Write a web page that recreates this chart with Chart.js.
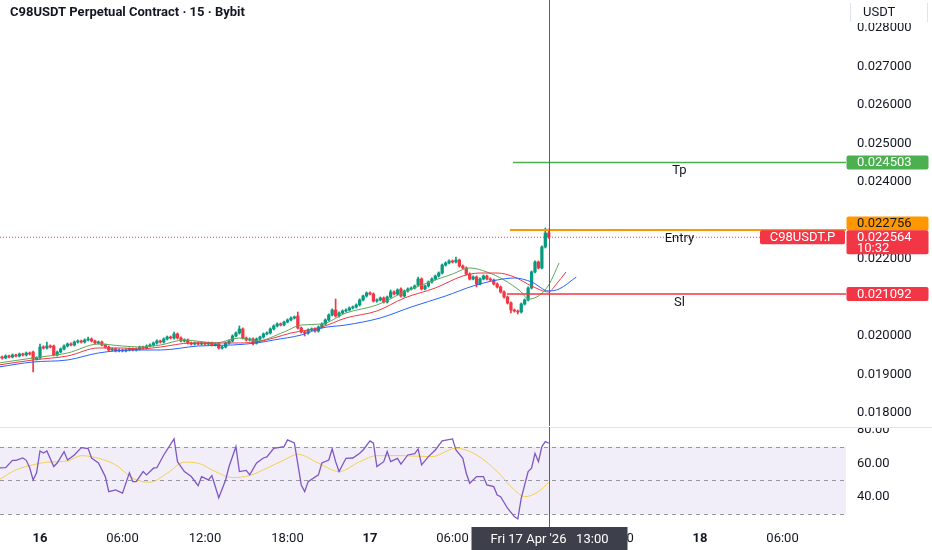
<!DOCTYPE html>
<html><head><meta charset="utf-8">
<script src="https://cdn.jsdelivr.net/npm/chart.js@4.4.1/dist/chart.umd.min.js"></script>
<style>
html,body{margin:0;padding:0;background:#fff;width:932px;height:550px;overflow:hidden;}
#wrap{position:relative;width:932px;height:550px;}
canvas{position:absolute;left:0;}
#main{top:0;}
#rsi{top:427px;}
</style></head><body>
<div id="wrap"><canvas id="main" width="932" height="426"></canvas><canvas id="rsi" width="932" height="123"></canvas></div>
<script>
// ---------- DATA ----------
const title = 'C98USDT Perpetual Contract \u00b7 15 \u00b7 Bybit';
const quoteCcy = 'USDT';
const symbolTag = 'C98USDT.P';
const countdown = '10:32';
const crosshairLabel = "Fri 17 Apr '26   13:00";
const crosshairIdx = 160;

// 15-minute bars, index 0 = 15 Apr 21:00
const open = [
0.019429,0.019455,0.019429,0.019481,0.019455,0.019506,0.019481,0.019532,0.019506,0.019558,
0.019584,0.019403,0.019429,0.019714,0.019688,0.019740,0.019740,0.019506,0.019584,0.019662,
0.019740,0.019792,0.019766,0.019844,0.019870,0.019844,0.019896,0.019922,0.019870,0.019818,
0.019844,0.019766,0.019714,0.019636,0.019662,0.019610,0.019636,0.019610,0.019636,0.019662,
0.019636,0.019662,0.019714,0.019688,0.019740,0.019766,0.019818,0.019870,0.019844,0.019922,
0.019974,0.019948,0.020052,0.019948,0.019870,0.019896,0.019818,0.019792,0.019818,0.019792,
0.019818,0.019792,0.019818,0.019766,0.019792,0.019688,0.019714,0.019818,0.019870,0.020000,
0.020078,0.020182,0.019948,0.019896,0.019922,0.019818,0.019922,0.019974,0.020052,0.020078,
0.020182,0.020260,0.020312,0.020286,0.020364,0.020416,0.020468,0.020519,0.020208,0.020104,
0.020078,0.020156,0.020182,0.020130,0.020234,0.020312,0.020416,0.020545,0.020675,0.020519,
0.020597,0.020649,0.020675,0.020727,0.020753,0.020805,0.020935,0.021039,0.021117,0.021091,
0.020909,0.020935,0.020987,0.020883,0.021013,0.021143,0.021091,0.021221,0.021039,0.021169,
0.021221,0.021247,0.021325,0.021481,0.021221,0.021299,0.021403,0.021481,0.021558,0.021636,
0.021844,0.021896,0.021948,0.021922,0.021974,0.021818,0.021766,0.021610,0.021481,0.021532,
0.021351,0.021481,0.021558,0.021481,0.021455,0.021351,0.021273,0.021143,0.021013,0.020857,
0.020675,0.020649,0.020623,0.020831,0.020935,0.021247,0.021662,0.021922,0.021766,0.022312,
0.022675];
const high = [
0.019485,0.019480,0.019510,0.019505,0.019535,0.019530,0.019560,0.019555,0.019585,0.019585,
0.019610,0.019460,0.019792,0.019745,0.019844,0.019770,0.019765,0.019610,0.019690,0.019770,
0.019820,0.019820,0.019870,0.019900,0.019895,0.019925,0.019974,0.019950,0.019895,0.019870,
0.019870,0.019795,0.019740,0.019690,0.019690,0.019665,0.019660,0.019665,0.019690,0.019690,
0.019690,0.019740,0.019740,0.019770,0.019795,0.019845,0.019900,0.019895,0.019950,0.020000,
0.020000,0.020104,0.020080,0.019975,0.019925,0.019925,0.019845,0.019845,0.019845,0.019845,
0.019845,0.019845,0.019845,0.019820,0.019820,0.019740,0.019845,0.019900,0.020030,0.020105,
0.020260,0.020210,0.019975,0.019950,0.019950,0.019950,0.020000,0.020080,0.020105,0.020210,
0.020290,0.020340,0.020340,0.020390,0.020445,0.020495,0.020520,0.020623,0.020235,0.020130,
0.020185,0.020210,0.020210,0.020260,0.020340,0.020445,0.020575,0.020705,0.020961,0.020625,
0.020680,0.020705,0.020755,0.020780,0.020835,0.020965,0.021065,0.021145,0.021145,0.021120,
0.020965,0.021015,0.021015,0.021040,0.021195,0.021170,0.021225,0.021250,0.021195,0.021250,
0.021275,0.021325,0.021532,0.021510,0.021325,0.021430,0.021510,0.021585,0.021665,0.021870,
0.021925,0.021975,0.021975,0.022052,0.022000,0.021845,0.021795,0.021640,0.021560,0.021560,
0.021510,0.021585,0.021585,0.021510,0.021480,0.021380,0.021300,0.021170,0.021040,0.020885,
0.020700,0.020675,0.020860,0.020965,0.021275,0.021690,0.021950,0.021950,0.022340,0.022805,
0.022779];
const low = [
0.019400,0.019400,0.019405,0.019430,0.019430,0.019455,0.019455,0.019480,0.019480,0.019505,
0.019065,0.019375,0.019400,0.019660,0.019660,0.019690,0.019481,0.019480,0.019560,0.019635,
0.019715,0.019740,0.019740,0.019815,0.019815,0.019815,0.019870,0.019845,0.019790,0.019790,
0.019740,0.019690,0.019610,0.019610,0.019585,0.019585,0.019585,0.019585,0.019610,0.019610,
0.019610,0.019635,0.019660,0.019660,0.019715,0.019740,0.019790,0.019815,0.019815,0.019895,
0.019920,0.019920,0.019920,0.019845,0.019845,0.019790,0.019765,0.019765,0.019765,0.019765,
0.019765,0.019765,0.019740,0.019740,0.019660,0.019660,0.019690,0.019790,0.019845,0.019975,
0.020050,0.019920,0.019870,0.019870,0.019766,0.019790,0.019895,0.019945,0.020025,0.020050,
0.020155,0.020235,0.020260,0.020260,0.020340,0.020390,0.020440,0.020180,0.020075,0.020000,
0.020050,0.020130,0.020100,0.020100,0.020205,0.020285,0.020390,0.020520,0.020490,0.020490,
0.020570,0.020620,0.020650,0.020700,0.020725,0.020780,0.020910,0.021010,0.021065,0.020880,
0.020880,0.020910,0.020855,0.020855,0.020985,0.021065,0.021065,0.021010,0.021010,0.021140,
0.021195,0.021220,0.021300,0.021195,0.021195,0.021270,0.021375,0.021455,0.021530,0.021610,
0.021815,0.021870,0.021895,0.021895,0.021790,0.021740,0.021585,0.021455,0.021455,0.021273,
0.021325,0.021455,0.021455,0.021430,0.021325,0.021245,0.021115,0.020985,0.020830,0.020597,
0.020620,0.020571,0.020595,0.020805,0.020910,0.021220,0.021635,0.021740,0.021740,0.022285,
0.022535];
const close = [
0.019455,0.019429,0.019481,0.019455,0.019506,0.019481,0.019532,0.019506,0.019558,0.019532,
0.019403,0.019429,0.019714,0.019688,0.019740,0.019714,0.019506,0.019584,0.019662,0.019740,
0.019792,0.019766,0.019844,0.019870,0.019844,0.019896,0.019922,0.019870,0.019818,0.019844,
0.019766,0.019714,0.019636,0.019662,0.019610,0.019636,0.019610,0.019636,0.019662,0.019636,
0.019662,0.019714,0.019688,0.019740,0.019766,0.019818,0.019870,0.019844,0.019922,0.019974,
0.019948,0.020052,0.019948,0.019870,0.019896,0.019818,0.019792,0.019818,0.019792,0.019818,
0.019792,0.019818,0.019766,0.019792,0.019688,0.019714,0.019818,0.019870,0.020000,0.020078,
0.020182,0.019948,0.019896,0.019922,0.019818,0.019922,0.019974,0.020052,0.020078,0.020182,
0.020260,0.020312,0.020286,0.020364,0.020416,0.020468,0.020494,0.020208,0.020104,0.020078,
0.020156,0.020182,0.020130,0.020234,0.020312,0.020416,0.020545,0.020675,0.020519,0.020597,
0.020649,0.020675,0.020727,0.020753,0.020805,0.020935,0.021039,0.021117,0.021091,0.020909,
0.020935,0.020987,0.020883,0.021013,0.021143,0.021091,0.021195,0.021039,0.021169,0.021221,
0.021247,0.021299,0.021481,0.021221,0.021299,0.021403,0.021481,0.021558,0.021636,0.021844,
0.021896,0.021948,0.021922,0.021974,0.021818,0.021766,0.021610,0.021481,0.021532,0.021351,
0.021481,0.021558,0.021481,0.021455,0.021351,0.021273,0.021143,0.021013,0.020857,0.020675,
0.020649,0.020623,0.020831,0.020935,0.021247,0.021662,0.021922,0.021766,0.022312,0.022675,
0.022564];

// moving averages (bar index, price)
const maFastIdx = [0,10,20,29,36,41,47,54,63,70,75,83,88,94,101,110,118,127,132,137,142,147,152,154,157,160,163];
const maFast = [0.019299,0.019429,0.019558,0.019792,0.019740,0.019714,0.019766,0.019896,0.019818,0.019948,0.019870,0.020104,0.020286,0.020312,0.020597,0.020805,0.021143,0.021455,0.021610,0.021766,0.021662,0.021455,0.021143,0.020961,0.021039,0.021325,0.021896];
const maMidIdx = [0,10,20,29,36,41,47,56,68,75,80,85,90,94,101,110,118,127,135,140,145,150,155,160,162,165];
const maMid = [0.019247,0.019377,0.019481,0.019688,0.019688,0.019662,0.019714,0.019818,0.019818,0.019844,0.019948,0.020078,0.020156,0.020234,0.020468,0.020649,0.020987,0.021247,0.021558,0.021636,0.021636,0.021532,0.021299,0.021143,0.021325,0.021662];
const maSlowIdx = [0,10,20,29,39,47,58,68,75,80,88,94,101,111,120,130,138,145,150,155,160,163,168];
const maSlow = [0.019195,0.019325,0.019377,0.019558,0.019636,0.019636,0.019740,0.019766,0.019818,0.019896,0.020026,0.020208,0.020286,0.020468,0.020753,0.021039,0.021299,0.021455,0.021506,0.021403,0.021169,0.021220,0.021532];

// levels
const levelNames = ['Tp','Entry','Sl'];
const levelPrices = [0.024503, 0.022756, 0.021092];
const levelStartIdx = [149.6, 148.7, 147.8];
const levelLabelIdx = 198;
const lastPrice = 0.022564;

// RSI
const rsiIdx = [0,2,4,5,7,8,9,10,11,12,13,14,16,17,19,20,22,24,26,27,29,31,32,34,36,38,39,40,42,43,45,46,48,51,52,54,56,58,59,61,62,64,66,67,69,70,72,73,75,77,78,80,83,84,86,88,89,90,93,94,96,97,98,99,101,103,105,106,108,109,110,112,113,114,116,117,119,121,122,123,125,127,129,132,133,135,136,137,139,141,142,144,145,146,148,150,151,152,154,155,156,157,158,159,160];
const rsiVal = [57.5,57.6,62,62,63.4,62,57.6,50.3,54.5,67.6,66.4,67.6,58.3,60.4,67.2,62.2,65.2,69.6,69,63.4,60.4,52.3,43.3,44.3,42.4,54.5,49.3,49.3,55.3,53.3,57.3,57.6,65.2,74.8,61.2,55.3,52.3,46.9,52.3,50.3,52.9,39.7,50.3,58.3,70.2,55.3,56,53.3,60.4,63.4,64,69.2,70.2,74.2,72.4,47.3,43.3,49.3,53.3,60.4,62.2,68.8,61.2,55.3,63.2,63.4,66.2,68.2,73.6,72.2,58.3,61.2,67.2,61.2,63.2,59.7,65.2,66,68.8,59.3,64.2,68.2,73.6,74.8,68.2,63.2,54.3,48.3,52.3,52.3,47.3,46.3,41.3,40.3,33.4,28.4,27,39.4,55.3,57.3,66.2,61.2,70.2,73.2,72.2];
const rsiMaIdx = [0,5,10,14,20,24,29,34,39,44,49,54,58,63,68,73,78,83,87,93,99,105,110,117,126,133,139,145,150,153,157,160];
const rsiMa = [50.3,56.3,59.3,60.9,61.6,64.8,63.2,59.3,51.3,48.9,54.3,60.9,60.3,55.3,51.7,52.9,57.3,62.2,65.6,60.3,55.3,61.2,64.8,64.8,64.2,69.2,65.2,55.3,44.3,40.3,43.3,48.9];
const rsiLevels = [70, 50, 30];

// axes (0.021 and 0.023 are hidden behind the level tags in the original)
const priceTicks = [0.018,0.019,0.020,0.022,0.024,0.025,0.026,0.027,0.028];
const rsiTicks = [40, 60, 80];
const timeTickIdx = [12,36,60,84,108,132,156,180,204,228];
const timeTickLabels = ['16','06:00','12:00','18:00','17','06:00','12:00','18:00','18','06:00'];
const timeTickBold = [true,false,false,false,true,false,false,false,true,false];

// ---------- STYLE / RANGES ----------
const X_MIN = 0.364, X_MAX = 246.47;
const Y_MIN = 0.017662, Y_MAX = 0.028727;
const R_MIN = 22.2, R_MAX = 81.9;
const UP = '#089981', DN = '#f23645';
const AXIS_W = 86;
const FONT = 'Roboto';
Chart.defaults.font.family = FONT;
Chart.defaults.animation = false;

const idx = close.map((_, i) => i);
const dir = i => close[i] >= open[i] ? UP : DN;
const pts = (xs, ys) => xs.map((x, i) => ({x: x, y: ys[i]}));
const noPad = s => { s.paddingTop = 0; s.paddingBottom = 0; s.paddingLeft = 0; s.paddingRight = 0; };

function roundRect(ctx, x, y, w, h, r) {
  ctx.beginPath();
  ctx.moveTo(x + r, y); ctx.lineTo(x + w - r, y); ctx.quadraticCurveTo(x + w, y, x + w, y + r);
  ctx.lineTo(x + w, y + h - r); ctx.quadraticCurveTo(x + w, y + h, x + w - r, y + h);
  ctx.lineTo(x + r, y + h); ctx.quadraticCurveTo(x, y + h, x, y + h - r);
  ctx.lineTo(x, y + r); ctx.quadraticCurveTo(x, y, x + r, y); ctx.closePath();
}

const levelColors = ['#4caf50', '#ff9800', '#f23645'];
const levelWidths = [1.5, 2, 1.5];

const mainOverlay = {
  id: 'mainOverlay',
  afterDraw(chart) {
    const {ctx, chartArea: ca, scales: {x, y}} = chart;
    ctx.save();
    const cx = Math.round(x.getPixelForValue(crosshairIdx)) + 0.5;
    ctx.strokeStyle = '#5d606b'; ctx.lineWidth = 1;
    ctx.beginPath(); ctx.moveTo(cx, 0); ctx.lineTo(cx, chart.height); ctx.stroke();
    ctx.font = '13px ' + FONT; ctx.fillStyle = '#131722'; ctx.textAlign = 'center'; ctx.textBaseline = 'top';
    levelNames.forEach((n, i) => {
      ctx.fillText(n, x.getPixelForValue(levelLabelIdx), y.getPixelForValue(levelPrices[i]) + 2);
    });
    ctx.font = 'bold 13px ' + FONT; ctx.textAlign = 'left'; ctx.textBaseline = 'middle'; ctx.fillStyle = '#131722';
    ctx.fillText(title, 10, 13);
    const ax = ca.right;
    ctx.fillStyle = '#ffffff'; ctx.fillRect(ax, 0, chart.width - ax, 23);
    ctx.strokeStyle = '#e0e3eb'; ctx.beginPath(); ctx.moveTo(ax + 4.5, 3); ctx.lineTo(ax + 4.5, 22); ctx.moveTo(chart.width - 4.5, 3); ctx.lineTo(chart.width - 4.5, 22); ctx.stroke();
    ctx.fillStyle = '#131722'; ctx.font = '13px ' + FONT; ctx.fillText(quoteCcy, ax + 17, 13);
    const tagW = 82, tx = ax + 0.5;
    function tag(top, h, bg, fg, lines) {
      ctx.fillStyle = bg; roundRect(ctx, tx, top, tagW, h, 2); ctx.fill();
      ctx.fillStyle = fg; ctx.font = '13px ' + FONT; ctx.textAlign = 'left'; ctx.textBaseline = 'middle';
      lines.forEach((t, k) => ctx.fillText(t, ax + 11, top + 7.5 + k * 11));
    }
    const yTp = y.getPixelForValue(levelPrices[0]);
    const yEn = y.getPixelForValue(levelPrices[1]);
    const ySl = y.getPixelForValue(levelPrices[2]);
    const yLast = y.getPixelForValue(lastPrice);
    tag(yTp - 7, 14, '#4caf50', '#ffffff', [levelPrices[0].toFixed(6)]);
    tag(yEn - 13.5, 14, '#ff9800', '#131722', [levelPrices[1].toFixed(6)]);
    tag(ySl - 7, 14, '#f23645', '#ffffff', [levelPrices[2].toFixed(6)]);
    tag(yLast - 7, 24, '#f23645', '#ffffff', [lastPrice.toFixed(6), countdown]);
    ctx.fillStyle = '#f23645'; roundRect(ctx, ax - 86, yLast - 7, 85, 14, 2); ctx.fill();
    ctx.fillStyle = '#ffffff'; ctx.textAlign = 'center'; ctx.fillText(symbolTag, ax - 43.5, yLast + 0.5);
    ctx.restore();
  }
};

new Chart(document.getElementById('main'), {
  type: 'bar',
  data: {
    datasets: [
      {type: 'line', data: [{x: X_MIN, y: lastPrice}, {x: X_MAX, y: lastPrice}], borderColor: '#f23645', borderWidth: 1, borderDash: [1, 2], pointRadius: 0, order: 10},
      {type: 'bar', data: idx.map(i => ({x: i, y: [low[i], high[i]]})), backgroundColor: c => dir(c.dataIndex), barThickness: 1, grouped: false, order: 3},
      {type: 'bar', data: idx.map(i => ({x: i, y: [open[i], close[i]]})), backgroundColor: c => dir(c.dataIndex), barThickness: 2.6, minBarLength: 1, grouped: false, order: 2},
      {type: 'line', data: pts(maSlowIdx, maSlow), borderColor: '#2962ff', borderWidth: 1, pointRadius: 0, cubicInterpolationMode: 'monotone', order: 1},
      {type: 'line', data: pts(maMidIdx, maMid), borderColor: '#f23645', borderWidth: 1, pointRadius: 0, cubicInterpolationMode: 'monotone', order: 1},
      {type: 'line', data: pts(maFastIdx, maFast), borderColor: '#5fa55a', borderWidth: 1, pointRadius: 0, cubicInterpolationMode: 'monotone', order: 1},
      ...levelPrices.map((p, i) => ({type: 'line', data: [{x: levelStartIdx[i], y: p}, {x: X_MAX, y: p}], borderColor: levelColors[i], borderWidth: levelWidths[i], pointRadius: 0, order: 0}))
    ]
  },
  options: {
    responsive: false, animation: false, events: [],
    layout: {padding: 0, autoPadding: false},
    plugins: {legend: {display: false}, tooltip: {enabled: false}},
    scales: {
      x: {type: 'linear', min: X_MIN, max: X_MAX, offset: false, display: false},
      y: {
        position: 'right', min: Y_MIN, max: Y_MAX,
        grid: {display: false, drawTicks: false}, border: {display: false},
        afterBuildTicks: s => { s.ticks = priceTicks.map(v => ({value: v})); },
        afterFit: s => { s.width = AXIS_W; noPad(s); },
        ticks: {padding: 11, color: '#131722', font: {size: 13}, callback: v => Number(v).toFixed(6)}
      }
    }
  },
  plugins: [mainOverlay]
});

const rsiOverlay = {
  id: 'rsiOverlay',
  beforeDatasetsDraw(chart) {
    const {ctx, chartArea: ca, scales: {y}} = chart;
    ctx.save();
    const y70 = y.getPixelForValue(rsiLevels[0]), y30 = y.getPixelForValue(rsiLevels[2]);
    ctx.fillStyle = 'rgba(126,87,194,0.1)';
    ctx.fillRect(ca.left, y70, ca.right - ca.left, y30 - y70);
    ctx.strokeStyle = '#9598a1'; ctx.lineWidth = 1; ctx.setLineDash([4, 4]);
    rsiLevels.forEach(v => {
      const yy = Math.round(y.getPixelForValue(v)) + 0.5;
      ctx.beginPath(); ctx.moveTo(ca.left, yy); ctx.lineTo(ca.right, yy); ctx.stroke();
    });
    ctx.restore();
  },
  afterDraw(chart) {
    const {ctx, chartArea: ca, scales: {x}} = chart;
    ctx.save();
    ctx.strokeStyle = '#e0e3eb'; ctx.lineWidth = 1;
    ctx.beginPath(); ctx.moveTo(0, 0.5); ctx.lineTo(chart.width, 0.5); ctx.stroke();
    const cx = Math.round(x.getPixelForValue(crosshairIdx)) + 0.5;
    ctx.strokeStyle = '#5d606b';
    ctx.beginPath(); ctx.moveTo(cx, 0); ctx.lineTo(cx, ca.bottom); ctx.stroke();
    const bw = 156, bh = 23;
    ctx.fillStyle = '#3d404b';
    ctx.fillRect(cx - bw / 2, ca.bottom, bw, bh);
    ctx.fillStyle = '#ffffff'; ctx.font = '13px ' + FONT; ctx.textAlign = 'center'; ctx.textBaseline = 'middle';
    ctx.fillText(crosshairLabel, cx, ca.bottom + bh / 2 + 1);
    ctx.restore();
  }
};

new Chart(document.getElementById('rsi'), {
  type: 'line',
  data: {
    datasets: [
      {data: pts(rsiMaIdx, rsiMa), borderColor: '#f5cf4a', borderWidth: 1, pointRadius: 0, cubicInterpolationMode: 'monotone', order: 2},
      {data: pts(rsiIdx, rsiVal), borderColor: '#7e57c2', borderWidth: 1.3, pointRadius: 0, tension: 0, order: 1}
    ]
  },
  options: {
    responsive: false, animation: false, events: [],
    layout: {padding: 0, autoPadding: false},
    plugins: {legend: {display: false}, tooltip: {enabled: false}},
    scales: {
      x: {
        type: 'linear', min: X_MIN, max: X_MAX, offset: false,
        grid: {display: false, drawTicks: false}, border: {display: false},
        afterBuildTicks: s => { s.ticks = timeTickIdx.map(v => ({value: v})); },
        afterFit: s => { s.height = 23; noPad(s); },
        ticks: {
          padding: 4, color: '#131722', maxRotation: 0, autoSkip: false,
          font: c => ({size: 13, weight: (c.tick && timeTickBold[timeTickIdx.indexOf(c.tick.value)]) ? 'bold' : 'normal'}),
          callback: v => { const k = timeTickIdx.indexOf(v); return k >= 0 ? timeTickLabels[k] : ''; }
        }
      },
      y: {
        position: 'right', min: R_MIN, max: R_MAX,
        grid: {display: false, drawTicks: false}, border: {display: false},
        afterBuildTicks: s => { s.ticks = rsiTicks.map(v => ({value: v})); },
        afterFit: s => { s.width = AXIS_W; noPad(s); },
        ticks: {padding: 11, color: '#131722', font: {size: 13}, callback: v => Number(v).toFixed(2)}
      }
    }
  },
  plugins: [rsiOverlay]
});
</script>
</body></html>
